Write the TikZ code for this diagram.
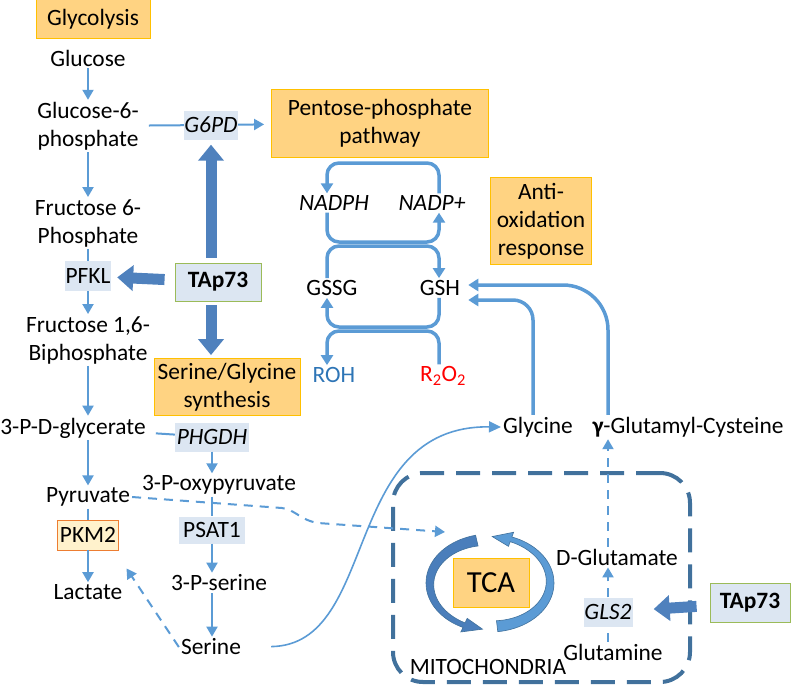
\documentclass[tikz,border=0pt]{standalone}
\usepackage{fontspec}
\setmainfont{Carlito}
\usetikzlibrary{arrows.meta}
\usetikzlibrary{calc}

\definecolor{flowblue}{HTML}{5B9BD5}
\definecolor{fatblue}{HTML}{4F81BD}
\definecolor{mitoblue}{HTML}{41719C}
\definecolor{tcadark}{HTML}{4A7EBB}
\definecolor{boxorange}{HTML}{FFD382}
\definecolor{boxgold}{HTML}{FFC000}
\definecolor{genefill}{HTML}{DCE6F2}
\definecolor{tapgreen}{HTML}{9BBB59}
\definecolor{pkmfill}{HTML}{FFF2CC}
\definecolor{pkmline}{HTML}{ED7D31}
\definecolor{rohblue}{HTML}{2E75B6}

\begin{document}
\begin{tikzpicture}
[x=1pt,y=-1pt,
  every node/.style={font=\fontsize{23.4}{28}\selectfont,inner sep=2pt,align=center},
  pathbox/.style={fill=boxorange,draw=boxgold,line width=0.8pt},
  genebox/.style={fill=genefill,inner sep=0pt},
  tapbox/.style={fill=genefill,draw=tapgreen,line width=0.9pt},
  pkmbox/.style={fill=pkmfill,draw=pkmline,line width=0.9pt},
  mitobox/.style={draw=mitoblue,line width=4pt,rounded corners=30pt,dash pattern=on 24pt off 12pt},
  flowline/.style={draw=flowblue,line width=2pt},
  flow/.style={flowline,-{Triangle[width=11pt,length=10pt]}},
  dashline/.style={dash pattern=on 9pt off 7pt},
  thinflow/.style={draw=flowblue,line width=1.6pt,-{Triangle[width=11pt,length=12pt]}},
  cyc/.style={draw=flowblue,line width=3.5pt,rounded corners=12pt,-{Triangle[width=12pt,length=10pt]}},
  fat/.style={draw=fatblue,line width=11pt,-{Triangle[width=25pt,length=16pt]}}]

\useasboundingbox (0,0) rectangle (797,688);

%% mitochondria
\node (mito) at (541.5,577.5) [mitobox,minimum width=297,minimum height=209] {};

%% glycolysis column
\node (glycolysis) at (93,19) [pathbox,minimum width=114,minimum height=39] {Glycolysis};
\node (glucose) at (88,58) {Glucose};
\node (g6p) at (88,126) {Glucose-6-\\phosphate};
\node (f6p) at (88,223) {Fructose 6-\\Phosphate};
\node (pfkl) at (88,276) [genebox,minimum width=46,minimum height=30] {PFKL};
\node (f16bp) at (88,340) {Fructose 1,6-\\Biphosphate};
\node (pdg) at (73,428) {3-P-D-glycerate};
\node (pyruvate) at (88,497) {Pyruvate};
\node (pkm2) at (88,535) [pkmbox,minimum width=58,minimum height=30] {PKM2};
\node (lactate) at (88,592) {Lactate};

%% serine branch and TAp73
\node (g6pd) at (211,125) [genebox,minimum width=54,minimum height=29] {\itshape G6PD};
\node (ppp) at (380,123) [pathbox,minimum width=217,minimum height=68] {Pentose-phosphate\\pathway};
\node (tap) at (218,282) [tapbox,minimum width=86,minimum height=38] {\bfseries TAp73};
\node (sgs) at (227,387) [pathbox,minimum width=146,minimum height=57] {Serine/Glycine\\synthesis};
\node (phgdh) at (212,437) [genebox,minimum width=74,minimum height=29] {\itshape PHGDH};
\node (pop) at (219,485) {3-P-oxypyruvate};
\node (psat1) at (212,530) [genebox,minimum width=66,minimum height=27] {PSAT1};
\node (ps) at (219,583) {3-P-serine};
\node (serine) at (211,647) {Serine};

%% glutathione cycle
\node (nadph) at (334,203) {\itshape NADPH};
\node (nadpp) at (432,203) {\itshape NADP+};
\node (gssg) at (332,288) {GSSG};
\node (gsh) at (440,288) {GSH};
\node (roh) at (334,375) [text=rohblue] {ROH};
\node (rooh) at (443,376) [text=red] {R\textsubscript{2}O\textsubscript{2}};
\node (antiox) at (541,221) [pathbox,minimum width=101,minimum height=87] {Anti-\\oxidation\\response};
\node (glycine) at (538,427) {Glycine};
\node (gcys) at (688,427) {{\bfseries γ}-Glutamyl-Cysteine};

%% inside mitochondria
\node (tca) at (491,583) [pathbox,minimum width=76,minimum height=49,font=\fontsize{30.6}{36}\selectfont] {TCA};
\node (dglu) at (617,557) {D-Glutamate};
\node (gls2) at (608,612) [genebox,minimum width=49,minimum height=29] {\itshape GLS2};
\node (gln) at (613,652) {Glutamine};
\node (mitolabel) at (488,667) {MITOCHONDRIA};
\node (tapr) at (750,603) [tapbox,minimum width=80,minimum height=39] {\bfseries TAp73};

\coordinate (cl) at (327,0);
\coordinate (cr) at (439,0);
\coordinate (toplevel) at (0,163);
\coordinate (midup) at (0,242);
\coordinate (middown) at (0,246);
\coordinate (lowup) at (0,327);
\coordinate (lowdown) at (0,331);
\coordinate (tcain) at (445,532);

%% TCA cycle arrows
\fill[tcadark,draw=mitoblue,line width=0.6pt]
  plot[domain=257:115,samples=40,variable=\t] ({490+64*cos(\t)},{583+49*sin(\t)})
  -- ({490+69*cos(115)},{583+54*sin(115)})
  -- ({490+61.5*cos(97)},{583+46.5*sin(97)})
  -- ({490+54*cos(115)},{583+39*sin(115)})
  -- plot[domain=115:257,samples=40,variable=\t] ({490+(59-6*(\t-115)/142)*cos(\t)},{583+(44-6*(\t-115)/142)*sin(\t)})
  -- cycle;
\fill[flowblue,draw=mitoblue,line width=0.6pt]
  plot[domain=83:-70,samples=40,variable=\t] ({490+64*cos(\t)},{583+49*sin(\t)})
  -- ({490+69*cos(-70)},{583+54*sin(-70)})
  -- ({490+61.5*cos(-88)},{583+46.5*sin(-88)})
  -- ({490+54*cos(-70)},{583+39*sin(-70)})
  -- plot[domain=-70:83,samples=40,variable=\t] ({490+(59-6*(\t+70)/153)*cos(\t)},{583+(44-6*(\t+70)/153)*sin(\t)})
  -- cycle;

%% glycolysis
\draw[flow] (glucose) -- (g6p);
\draw[flow] (g6p) -- (f6p);
\draw[flowline] (f6p) -- (pfkl);
\draw[flow] (pfkl) -- (f16bp);
\draw[flow] (f16bp.south) -- (f16bp.south |- pdg.north);
\draw[flow] (pdg.south -| pyruvate) -- (pyruvate);
\draw[flowline] (pyruvate) -- (pkm2);
\draw[flow] (pkm2) -- (lactate);

%% side branches
\draw[flowline,shorten <=8pt] (g6p) -- (g6pd);
\draw[flow,shorten >=7pt] (g6pd) -- (ppp);
\draw[flowline,shorten <=8pt] (pdg) -- (phgdh);
\draw[flow] (phgdh) -- (phgdh |- pop.north);
\draw[flowline] (phgdh |- pop.south) -- (psat1);
\draw[flow] (psat1) -- (psat1 |- ps.north);
\draw[flow] (psat1 |- ps.south) -- (psat1 |- serine.north);
\draw[flow,dashline] (serine.west) -- ($(pkm2.south east)+(8,18)$);
\draw[thinflow,shorten <=28pt] (serine.east) .. controls (380,645) and (340,425) .. (glycine.west);
\draw[flow,dashline] (pyruvate.east) -- (282,508) .. controls (296,510) and (300,520) .. (318,523) -- (tcain);

%% TAp73 arrows
\draw[fat,shorten <=10pt,shorten >=6pt] (tap) -- (pfkl);
\draw[fat,shorten <=5pt,shorten >=5pt] (g6pd |- tap.north) -- (g6pd);
\draw[fat,shorten <=4pt,shorten >=3pt] (g6pd |- tap.south) -- (g6pd |- sgs.north);
\draw[fat,shorten <=13pt,shorten >=21pt] (tapr) -- (gls2);

%% NADPH / glutathione loops
\draw[cyc] (cr |- nadpp.north) -- (cr |- toplevel) -- (cl |- toplevel) -- (cl |- nadph.north);
\draw[cyc] (cl |- nadph.south) -- (cl |- midup) -- (cr |- midup) -- (cr |- nadpp.south);
\draw[cyc] (cl |- gssg.north) -- (cl |- middown) -- (cr |- middown) -- (cr |- gsh.north);
\draw[cyc] (cr |- gsh.south) -- (cr |- lowup) -- (cl |- lowup) -- (cl |- gssg.south);
\draw[cyc] (cr |- rooh.north) -- (cr |- lowdown) -- (cl |- lowdown) -- (cl |- roh.north);
\draw[cyc,rounded corners=45pt] (gls2 |- gcys.north) |- ($(gsh.east)+(6,-3)$);
\draw[cyc,rounded corners=20pt] ($(glycine.north)+(-5,0)$) |- ($(gsh.east)+(6,12)$);

%% glutamine
\draw[flowline,dashline] (gls2 |- gln.north) -- (gls2);
\draw[flow,dashline] (gls2) -- (gls2 |- dglu.south);
\draw[flow,dashline] (gls2 |- dglu.north) -- (gls2 |- gcys.south);
\end{tikzpicture}
\end{document}
